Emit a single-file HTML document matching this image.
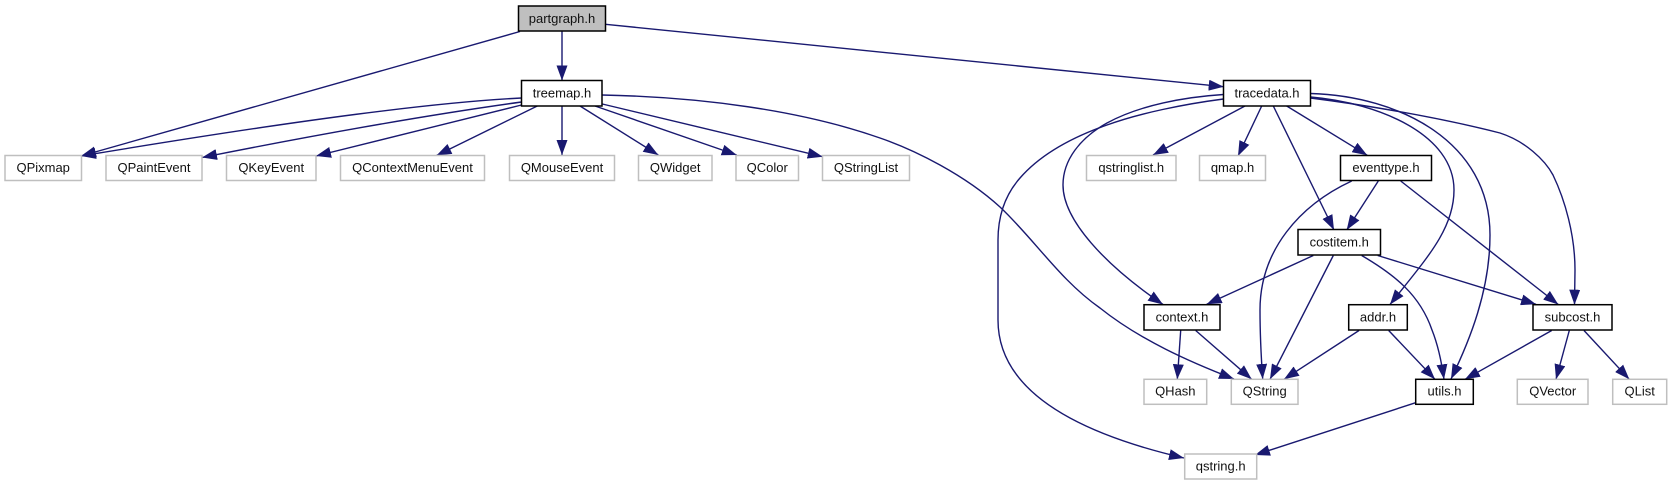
<!DOCTYPE html>
<html>
<head>
<meta charset="utf-8">
<style>
html,body{margin:0;padding:0;background:#fff;width:1671px;height:485px;overflow:hidden}
svg{display:block}
text{font-family:"Liberation Sans",sans-serif;font-size:13px;fill:#111;text-anchor:middle}
.e{fill:none;stroke:#191970;stroke-width:1.4;marker-end:url(#a)}
.n{fill:#fff;stroke:#000;stroke-width:1.5}
.d{fill:#fff;stroke:#bfbfbf;stroke-width:1.5}
.g{fill:#bfbfbf;stroke:#000;stroke-width:1.5}
</style>
</head>
<body>
<svg width="1671" height="485" viewBox="0 0 1671 485" xmlns="http://www.w3.org/2000/svg">
<defs>
<marker id="a" markerUnits="userSpaceOnUse" markerWidth="15" markerHeight="11" viewBox="0 0 15 11" refX="15" refY="5.5" orient="auto">
<path d="M0 0L15 5.5L0 11Z" fill="#191970"/>
</marker>
</defs>

<!-- edges -->
<path class="e" d="M520 31.5L81 156"/>
<path class="e" d="M562 31L562 80.5"/>
<path class="e" d="M605.5 24.3L1223.7 86.7"/>
<path class="e" d="M521.5 98C440 102 310 118 81 156"/>
<path class="e" d="M521.5 102C420 116 300 138 202 157.5"/>
<path class="e" d="M521.5 105L316 156"/>
<path class="e" d="M537.3 106L436.5 155.5"/>
<path class="e" d="M562 106L562 155"/>
<path class="e" d="M580 106L658.3 155"/>
<path class="e" d="M595 106L736.7 155"/>
<path class="e" d="M602.3 104L822.7 156.7"/>
<path class="e" d="M602 95C700 97 800 110 880 138C915 150 965 175 1000 207C1035 240 1060 280 1100 308C1140 340 1190 362 1234 379"/>

<path class="e" d="M1223.5 99C1185 104 1140 113 1107 125C1070 138 1040 155 1020 178C1005 195 998 215 998 240L998 320C998 395 1085 435 1184 458"/>
<path class="e" d="M1223.5 94.5C1185 97 1140 105 1107 123C1080 138 1063 160 1063 185C1063 220 1105 265 1163 304.5"/>
<path class="e" d="M1245 106L1153 155"/>
<path class="e" d="M1261.7 106L1238 156"/>
<path class="e" d="M1273.3 106L1334 230"/>
<path class="e" d="M1286.7 106L1367.3 155.3"/>
<path class="e" d="M1310.5 93.5C1400 96 1490 142 1490 235C1490 290 1470 340 1451 379"/>
<path class="e" d="M1310.5 97C1380 103 1454 135 1454 190C1454 230 1425 260 1390 304.5"/>
<path class="e" d="M1310.5 98C1350 103 1430 115 1500 133C1525 141 1545 160 1553 175C1565 200 1575 235 1575 270L1574.5 304.7"/>

<path class="e" d="M1351.7 181C1300 205 1260 250 1260 310C1260 335 1261 355 1262.7 379"/>
<path class="e" d="M1378.3 181L1346.7 230"/>
<path class="e" d="M1400.7 181L1558.3 304.5"/>

<path class="e" d="M1313.3 255.5L1206.7 304.3"/>
<path class="e" d="M1333.3 255.5L1270 379.3"/>
<path class="e" d="M1361.7 255.5C1395 275 1420 295 1432 330C1438 345 1442 365 1444 379.3"/>
<path class="e" d="M1377.7 255.5L1536 304.3"/>

<path class="e" d="M1180.7 330.5L1177.3 379.3"/>
<path class="e" d="M1195.7 330.5L1251.7 379.3"/>
<path class="e" d="M1359 330.5L1284 379.3"/>
<path class="e" d="M1388.7 330.5L1435 379.3"/>
<path class="e" d="M1551.7 330.5L1465 379.3"/>
<path class="e" d="M1569.3 330.5L1556 379.3"/>
<path class="e" d="M1584 330.5L1629.3 379.3"/>
<path class="e" d="M1415.7 402.7L1255 455"/>

<!-- nodes -->
<rect class="g" x="518.5" y="6" width="87" height="25"/><text x="562" y="23">partgraph.h</text>
<rect class="n" x="521.5" y="80.5" width="80.5" height="25.5"/><text x="562" y="97.5">treemap.h</text>
<rect class="n" x="1223.5" y="80.5" width="87" height="25.5"/><text x="1267" y="97.5">tracedata.h</text>

<rect class="d" x="5" y="155.5" width="76.5" height="25"/><text x="43.2" y="171.9">QPixmap</text>
<rect class="d" x="106" y="155.5" width="96" height="25"/><text x="154" y="171.9">QPaintEvent</text>
<rect class="d" x="226.5" y="155.5" width="89.5" height="25"/><text x="271.2" y="171.9">QKeyEvent</text>
<rect class="d" x="340.5" y="155.5" width="144" height="25"/><text x="412.5" y="171.9">QContextMenuEvent</text>
<rect class="d" x="509.5" y="155.5" width="105" height="25"/><text x="562" y="171.9">QMouseEvent</text>
<rect class="d" x="638.5" y="155.5" width="73.5" height="25"/><text x="675.2" y="171.9">QWidget</text>
<rect class="d" x="736" y="155.5" width="62.5" height="25"/><text x="767.2" y="171.9">QColor</text>
<rect class="d" x="822.5" y="155.5" width="87" height="25"/><text x="866" y="171.9">QStringList</text>
<rect class="d" x="1086.5" y="155.5" width="89.5" height="25"/><text x="1131.2" y="171.9">qstringlist.h</text>
<rect class="d" x="1199.5" y="155.5" width="66" height="25"/><text x="1232.5" y="171.9">qmap.h</text>
<rect class="n" x="1340.5" y="155.5" width="91" height="25"/><text x="1386" y="171.9">eventtype.h</text>

<rect class="n" x="1298" y="229.5" width="82.5" height="25.5"/><text x="1339.2" y="246.5">costitem.h</text>

<rect class="n" x="1144" y="304.7" width="76" height="25.3"/><text x="1182" y="321.5">context.h</text>
<rect class="n" x="1348.7" y="304.7" width="58.6" height="25.3"/><text x="1378" y="321.5">addr.h</text>
<rect class="n" x="1533" y="304.7" width="79" height="25.3"/><text x="1572.5" y="321.5">subcost.h</text>

<rect class="d" x="1144" y="379.3" width="62.7" height="25"/><text x="1175.3" y="395.7">QHash</text>
<rect class="d" x="1231.3" y="379.3" width="66.7" height="25"/><text x="1264.7" y="395.7">QString</text>
<rect class="n" x="1415.7" y="379.3" width="57.6" height="25"/><text x="1444.5" y="395.7">utils.h</text>
<rect class="d" x="1517.3" y="379.3" width="70.7" height="25"/><text x="1552.7" y="395.7">QVector</text>
<rect class="d" x="1612.7" y="379.3" width="54" height="25"/><text x="1639.7" y="395.7">QList</text>

<rect class="d" x="1184.7" y="454" width="72" height="25"/><text x="1220.7" y="470.4">qstring.h</text>
</svg>
</body>
</html>
